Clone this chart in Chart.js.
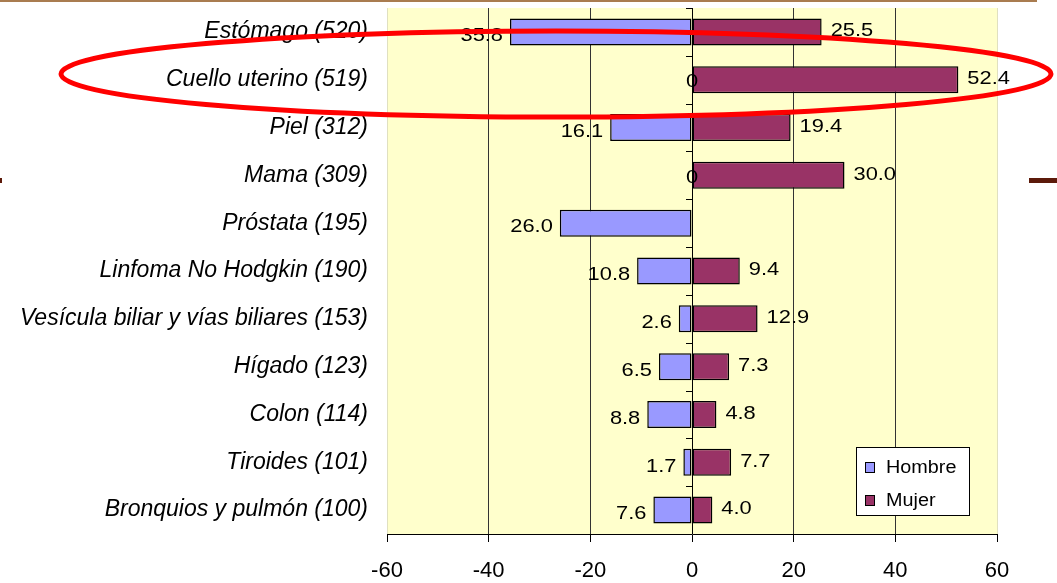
<!DOCTYPE html>
<html>
<head>
<meta charset="utf-8">
<script src="https://cdn.jsdelivr.net/npm/chart.js"></script>
<style>
  body { margin: 0; background: #fff; }
  canvas { display: block; }
</style>
</head>
<body>
<canvas id="cancerChart" width="1057" height="583"></canvas>
<script>
const categories = [
  "Estómago (520)",
  "Cuello uterino (519)",
  "Piel (312)",
  "Mama (309)",
  "Próstata (195)",
  "Linfoma No Hodgkin (190)",
  "Vesícula biliar y vías biliares (153)",
  "Hígado (123)",
  "Colon (114)",
  "Tiroides (101)",
  "Bronquios y pulmón (100)",
];
const hombre = [35.8, 0, 16.1, 0, 26.0, 10.8, 2.6, 6.5, 8.8, 1.7, 7.6];
const mujer = [25.5, 52.4, 19.4, 30.0, null, 9.4, 12.9, 7.3, 4.8, 7.7, 4.0];
const xTicks = [-60, -40, -20, 0, 20, 40, 60];

const FONT = 'Arial, "Liberation Sans", sans-serif';
const canvas = document.getElementById("cancerChart");

// the original text is a bit wider than plain Arial
function wideText(ctx, text, x, y, align, sx) {
  ctx.save();
  ctx.translate(x, y);
  ctx.scale(sx, 1);
  ctx.textAlign = align;
  ctx.fillText(text, 0, 0);
  ctx.restore();
}

// yellow plot background
const plotBackground = {
  id: "plotBackground",
  beforeDraw(chart) {
    const { ctx, chartArea: a } = chart;
    ctx.save();
    ctx.fillStyle = "#FFFFCC";
    ctx.fillRect(a.left, a.top, a.right - a.left, a.bottom - a.top);
    ctx.restore();
  },
};

// value labels + little ticks on the zero line
const barLabels = {
  id: "barLabels",
  afterDatasetsDraw(chart) {
    const ctx = chart.ctx;
    const xs = chart.scales.x;
    const ys = chart.scales.y;
    const zero = xs.getPixelForValue(0);
    ctx.save();
    ctx.strokeStyle = "#000";
    ctx.lineWidth = 1;
    for (let i = 0; i < categories.length; i++) {
      const y = Math.round(ys.getPixelForValue(i - 0.5)) + 0.5;
      ctx.beginPath();
      ctx.moveTo(zero - 6, y);
      ctx.lineTo(zero, y);
      ctx.stroke();
    }
    ctx.font = "19px " + FONT;
    ctx.fillStyle = "#000";
    ctx.textBaseline = "middle";
    chart.getDatasetMeta(0).data.forEach((bar, i) => {
      const v = hombre[i];
      if (v === null) return;
      if (v === 0) {
        wideText(ctx, "0", zero, bar.y + 2, "center", 1.15);
      } else {
        wideText(ctx, v.toFixed(1), bar.x - 7, bar.y + 4, "right", 1.15);
      }
    });
    chart.getDatasetMeta(1).data.forEach((bar, i) => {
      const v = mujer[i];
      if (v === null) return;
      wideText(ctx, v.toFixed(1), bar.x + 9, bar.y - 1, "left", 1.15);
    });
    ctx.restore();
  },
};

// legend box, slide decorations and the red ellipse
const overlay = {
  id: "overlay",
  afterDraw(chart) {
    const ctx = chart.ctx;
    ctx.save();
    // legend
    ctx.fillStyle = "#fff";
    ctx.fillRect(856, 447, 113, 68);
    ctx.strokeStyle = "#000";
    ctx.lineWidth = 1;
    ctx.strokeRect(856.5, 447.5, 113, 68);
    ctx.font = "18px " + FONT;
    ctx.textBaseline = "middle";
    chart.data.datasets.forEach((ds, i) => {
      const cy = 467 + i * 33;
      ctx.fillStyle = ds.backgroundColor;
      ctx.fillRect(865, cy - 5, 9, 10);
      ctx.strokeRect(865.5, cy - 4.5, 9, 10);
      ctx.fillStyle = "#000";
      wideText(ctx, ds.label, 886, cy + 1, "left", 1.1);
    });
    // slide lines
    ctx.fillStyle = "#A97C50";
    ctx.fillRect(0, 0, 1037, 2);
    ctx.fillStyle = "#5C1A0A";
    ctx.fillRect(0, 178, 2, 5);
    ctx.fillRect(1029, 178, 28, 5);
    // ellipse around Cuello uterino
    ctx.strokeStyle = "#FF0000";
    ctx.lineWidth = 5;
    ctx.beginPath();
    ctx.ellipse(556, 74, 495, 43, 0, 0, Math.PI * 2);
    ctx.stroke();
    ctx.restore();
  },
};

new Chart(canvas, {
  type: "bar",
  data: {
    labels: categories,
    datasets: [
      {
        label: "Hombre",
        data: hombre.map((v) => (v === null ? null : -v)),
        backgroundColor: "#9999FF",
        borderColor: "#000",
        borderWidth: 1.5,
        borderSkipped: false,
      },
      {
        label: "Mujer",
        data: mujer,
        backgroundColor: "#993366",
        borderColor: "#000",
        borderWidth: 1.5,
        borderSkipped: false,
      },
    ],
  },
  options: {
    indexAxis: "y",
    responsive: false,
    animation: false,
    devicePixelRatio: 1,
    datasets: {
      bar: { barPercentage: 0.565, categoryPercentage: 1 },
    },
    layout: { padding: { top: 8, right: 60, bottom: 0, left: 0 } },
    plugins: {
      legend: { display: false },
      tooltip: { enabled: false },
    },
    scales: {
      x: {
        stacked: true,
        min: -60,
        max: 60,
        afterBuildTicks: (s) => {
          s.ticks = xTicks.map((v) => ({ value: v }));
        },
        afterFit: (s) => {
          s.height = 49;
          s.paddingLeft = 0;
          s.paddingRight = 0;
        },
        ticks: {
          callback: (v) => String(v),
          color: "#000",
          padding: 16,
          maxRotation: 0,
          font: { family: FONT, size: 22 },
        },
        grid: {
          color: (c) => {
            const v = c.tick ? c.tick.value : null;
            if (v === 0) return "#000";
            if (Math.abs(v) === 60) return "#E0E0C0";
            return "#333";
          },
          tickColor: "#000",
          tickLength: 8,
          lineWidth: 1,
        },
        border: { display: true, color: "#000", width: 1 },
      },
      y: {
        stacked: true,
        afterFit: (s) => {
          s.width = 387;
          s.paddingTop = 0;
          s.paddingBottom = 0;
        },
        ticks: {
          color: "#000",
          padding: 19,
          font: { family: FONT, size: 23, style: "italic" },
        },
        grid: { display: false, drawTicks: false },
        border: { display: false },
      },
    },
  },
  plugins: [plotBackground, barLabels, overlay],
});
</script>
</body>
</html>
